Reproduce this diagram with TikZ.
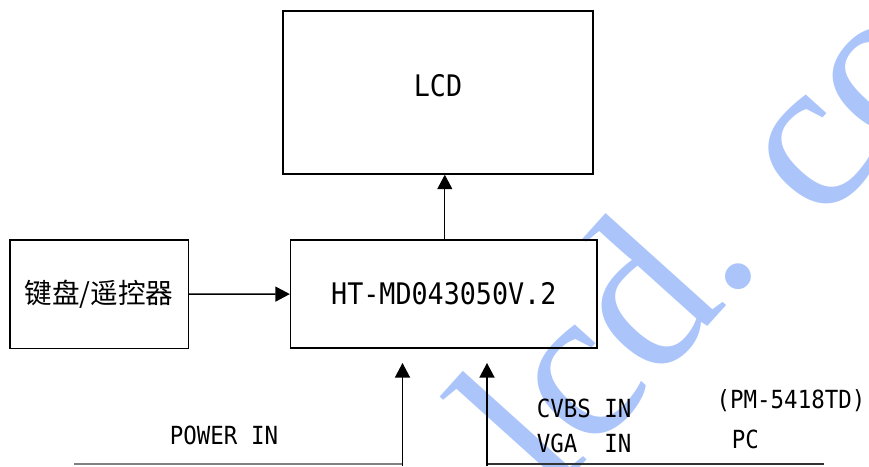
\documentclass[tikz,border=0pt]{standalone}
\usepackage{fontspec}
\usetikzlibrary{arrows.meta}
\newfontfamily\hei[FakeStretch=0.9]{DejaVu Sans Mono}
\newfontfamily\cjk{Noto Sans CJK SC}
\newfontfamily\wmfont{Liberation Serif}
\definecolor{wmblue}{RGB}{171,196,250}
\begin{document}
\begin{tikzpicture}[>={Triangle[length=0.29cm,width=0.3cm]},
  box/.style={draw, thick, inner sep=0pt},
  big/.style={font=\hei\fontsize{16.9}{19}\selectfont},
  small/.style={font=\hei\fontsize{14.2}{16}\selectfont},
  wire/.style={line width=0.75pt},
  wm/.style={wmblue, rotate=48, anchor=base west, inner sep=0pt, font=\wmfont\fontsize{124}{124}\selectfont}]
  \useasboundingbox (0,0) rectangle (17.38,-9.32);
  % watermark behind the drawing
  \begin{scope}
    \clip (0,0) rectangle (17.38,-9.32);
    \node[wm] (wm1) at (10.99,-10.03) {lcd.};
    \node[wm] (wm2) at (16.43,-4.53) {co};
  \end{scope}
  \node[box, minimum width=6.2cm, minimum height=3.26cm, label={[big, yshift=0.14cm]center:LCD}] (lcd) at (8.76,-1.85) {};
  \node[box, big, minimum width=6.13cm, minimum height=2.16cm] (board) at (8.876,-5.88) {HT-MD043050V.2};
  \node[box, minimum width=3.57cm, minimum height=2.17cm, font=\cjk\fontsize{15.7}{18}\selectfont] (keys) at (1.984,-5.884) {键盘/遥控器};
  \draw[->, wire] (keys) -- (board);
  \draw[->, wire] ([xshift=0.02cm]board.north) -- ([xshift=0.02cm]board.north |- lcd.south);
  % inputs from below
  \coordinate (pwrL) at (1.48,-9.28);
  \coordinate (pwrC) at (8.05,-9.28);
  \coordinate (sigC) at (9.74,-9.28);
  \coordinate (sigR) at (16.48,-9.28);
  \draw[gray, semithick] (pwrL) -- (pwrC);
  \draw[black!80, semithick] (sigR) -- (sigC);
  \draw[->, wire] ([yshift=-0.04cm]pwrC) -- ++(0,2.06);
  \draw[->, wire] ([yshift=-0.04cm]sigC) -- ++(0,2.06);
  \node[small] (power) at (4.48,-8.71) {POWER IN};
  \node[small, anchor=west, inner sep=0pt] (cvbs) at (10.73,-8.16) {CVBS IN};
  \node[small, anchor=west, inner sep=0pt] (vga) at (10.73,-8.86) {VGA\ \ IN};
  \node[small] (model) at (15.82,-8.01) {(PM-5418TD)};
  \node[small, anchor=west, inner sep=0pt] (pc) at (14.63,-8.78) {PC};
\end{tikzpicture}
\end{document}
